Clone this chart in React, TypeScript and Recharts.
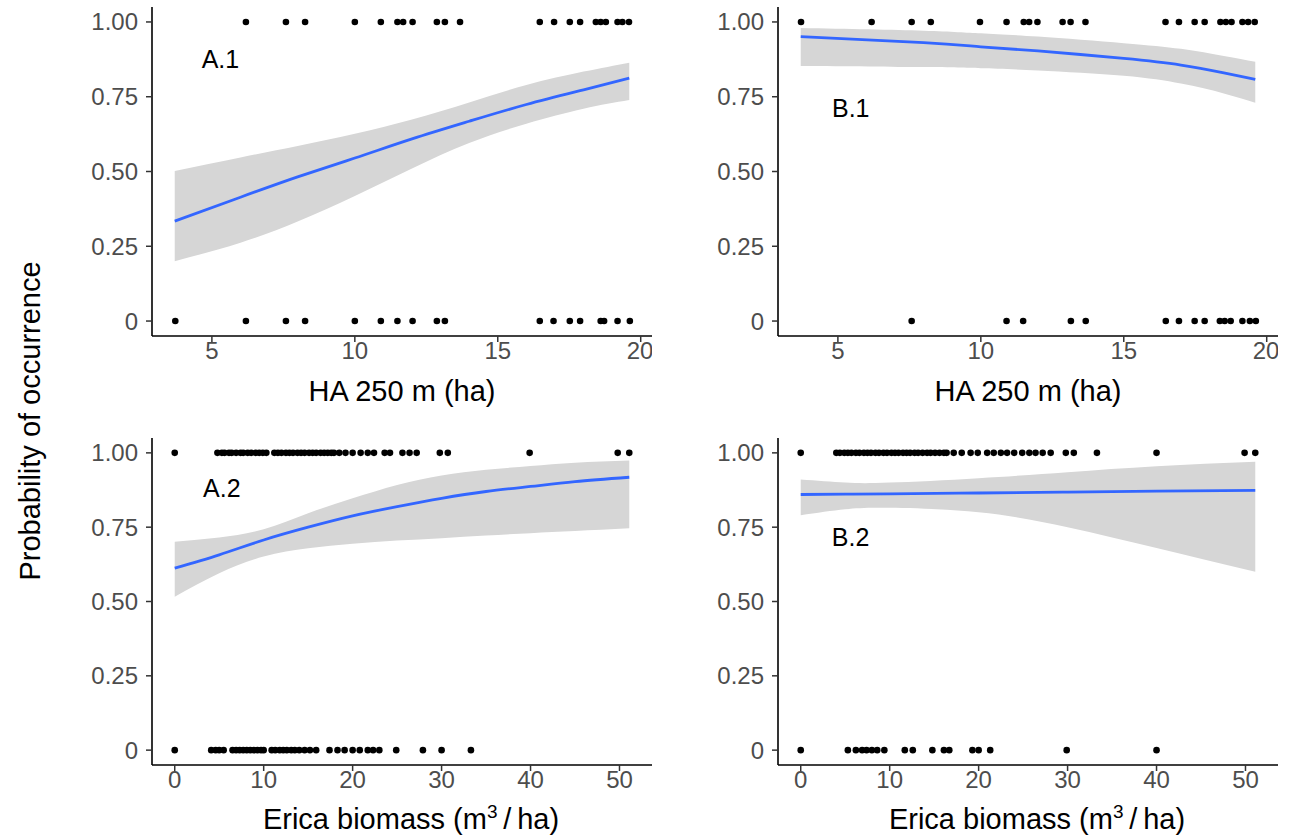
import React from "react";
import { Area, ComposedChart, Line, ReferenceDot, Scatter, XAxis, YAxis } from "recharts";

// HA 250 m (ha): sites where the species occurred (1) or not (0)
const a1Ones = [6.19, 7.59, 8.26, 10.0, 10.91, 11.49, 11.69, 12.02, 12.87, 13.15, 13.68, 16.47, 16.97, 17.52, 17.88, 18.43, 18.6, 18.78, 19.19, 19.36, 19.59];
const a1Zeros = [3.72, 6.19, 7.59, 8.26, 10.0, 10.91, 11.49, 12.02, 12.87, 13.15, 16.47, 16.95, 17.52, 17.88, 18.6, 18.72, 19.19, 19.62];
const b1Ones = [3.71, 6.18, 7.58, 8.25, 9.97, 10.9, 11.5, 11.69, 11.98, 12.86, 13.14, 13.66, 16.46, 16.93, 17.48, 17.83, 18.38, 18.57, 18.77, 19.15, 19.35, 19.58];
const b1Zeros = [7.58, 10.9, 11.48, 13.15, 13.67, 16.47, 16.93, 17.48, 17.83, 18.36, 18.53, 18.74, 19.15, 19.41, 19.62];

// Erica biomass (m3/ha)
const a2Ones = [0, 4.8, 5.3, 5.6, 6.1, 6.4, 6.9, 7.4, 7.7, 8.2, 8.6, 9.1, 9.5, 9.9, 10.3, 11.2, 11.6, 12.0, 12.5, 12.9, 13.3, 13.8, 14.2, 14.6, 15.1, 15.5, 15.9, 16.4, 16.8, 17.2, 17.6, 17.9, 18.5, 19.2, 20.0, 20.9, 21.7, 22.4, 23.6, 24.2, 25.6, 26.4, 27.2, 29.8, 30.7, 39.9, 49.8, 51.1];
const a2Zeros = [0, 4.1, 4.6, 5.0, 5.5, 6.5, 6.9, 7.3, 7.7, 8.1, 8.5, 8.9, 9.3, 9.7, 10.0, 10.9, 11.3, 11.8, 12.2, 12.6, 13.1, 13.5, 14.0, 14.6, 15.2, 15.9, 17.4, 18.3, 19.1, 20.0, 20.8, 21.7, 22.3, 23.0, 24.9, 27.9, 30.0, 33.3];
const b2Ones = [0, 4.0, 4.4, 4.9, 5.3, 5.7, 6.2, 6.6, 7.1, 7.5, 7.9, 8.4, 8.8, 9.3, 9.7, 10.2, 10.6, 11.0, 11.5, 11.9, 12.3, 12.8, 13.2, 13.7, 14.2, 14.6, 15.1, 15.6, 16.1, 16.4, 17.2, 18.1, 19.1, 19.9, 20.96, 21.7, 22.5, 23.2, 24.0, 24.9, 25.7, 26.4, 27.2, 28.1, 29.8, 30.7, 33.3, 40.0, 49.9, 51.1];
const b2Zeros = [0, 5.3, 6.2, 6.9, 7.4, 8.0, 8.6, 9.4, 11.7, 12.6, 14.8, 16.1, 16.7, 19.3, 20.0, 21.3, 29.9, 40.0];

// fitted curves with confidence band
const a1Fit = {
  x: [3.7, 6, 8, 10, 12, 14, 16, 18, 19.6],
  fit: [0.334, 0.414, 0.482, 0.545, 0.609, 0.668, 0.724, 0.773, 0.812],
  lo: [0.2, 0.262, 0.333, 0.418, 0.51, 0.595, 0.66, 0.71, 0.739],
  hi: [0.502, 0.547, 0.585, 0.626, 0.674, 0.731, 0.789, 0.834, 0.864],
};
const b1Fit = {
  x: [3.7, 8, 10, 12, 15, 17, 18.5, 19.6],
  fit: [0.951, 0.931, 0.917, 0.903, 0.878, 0.856, 0.83, 0.808],
  lo: [0.853, 0.849, 0.845, 0.838, 0.82, 0.794, 0.761, 0.73],
  hi: [0.98, 0.971, 0.962, 0.951, 0.929, 0.91, 0.886, 0.867],
};
const a2Fit = {
  x: [0, 5, 10, 15, 20, 25, 30, 35, 40, 45, 51.1],
  fit: [0.612, 0.657, 0.707, 0.75, 0.788, 0.819, 0.847, 0.87, 0.887, 0.903, 0.918],
  lo: [0.516, 0.595, 0.651, 0.679, 0.694, 0.705, 0.713, 0.722, 0.73, 0.737, 0.746],
  hi: [0.701, 0.715, 0.743, 0.797, 0.847, 0.892, 0.924, 0.943, 0.956, 0.967, 0.974],
};
const b2Fit = {
  x: [0, 5, 10, 20, 30, 40, 51.1],
  fit: [0.86, 0.861, 0.862, 0.865, 0.868, 0.871, 0.874],
  lo: [0.79, 0.81, 0.815, 0.8, 0.75, 0.68, 0.6],
  hi: [0.91, 0.9, 0.9, 0.915, 0.935, 0.955, 0.97],
};

const habTicks = [5, 10, 15, 20];
const ericaTicks = [0, 10, 20, 30, 40, 50];
const probTicks = [0, 0.25, 0.5, 0.75, 1];
const habDomain = [2.905, 20.395];
const ericaDomain = [-2.555, 53.655];

const FONT = "'Liberation Sans', Arial, sans-serif";

type Fit = { x: number[]; fit: number[]; lo: number[]; hi: number[] };
type PanelProps = {
  left: number;
  top: number;
  plotH: number;
  ones: number[];
  zeros: number[];
  curve: Fit;
  domain: number[];
  ticks: number[];
  tag: string;
  tagX: number;
  tagY: number;
};

function Panel(props: PanelProps) {
  const { left, top, plotH, ones, zeros, curve, domain, ticks, tag, tagX, tagY } = props;
  const pts = [...ones.map((x) => ({ x, y: 1 })), ...zeros.map((x) => ({ x, y: 0 }))];
  const smooth = curve.x.map((x, i) => ({ x, fit: curve.fit[i], band: [curve.lo[i], curve.hi[i]] }));
  return (
    <div style={{ position: "absolute", left, top }}>
      <ComposedChart width={600} height={plotH + 80} margin={{ top: 0, right: 0, bottom: 0, left: 0 }}>
        <XAxis
          dataKey="x"
          type="number"
          domain={domain}
          ticks={ticks}
          allowDataOverflow
          height={80}
          tickSize={6}
          tickMargin={0}
          axisLine={{ stroke: "#000", strokeWidth: 1.6 }}
          tickLine={{ stroke: "#333", strokeWidth: 1.5 }}
          tick={{ fill: "#4d4d4d", fontSize: 24 }}
        />
        <YAxis
          type="number"
          domain={[-0.05, 1.05]}
          ticks={probTicks}
          allowDataOverflow
          width={100}
          tickSize={6}
          tickMargin={8}
          tickFormatter={(v: number) => (v === 0 ? "0" : v.toFixed(2))}
          axisLine={{ stroke: "#000", strokeWidth: 1.6 }}
          tickLine={{ stroke: "#333", strokeWidth: 1.5 }}
          tick={{ fill: "#4d4d4d", fontSize: 24 }}
        />
        <Scatter
          data={pts}
          dataKey="y"
          isAnimationActive={false}
          shape={(p: any) => <circle cx={p.cx} cy={p.cy} r={3.3} fill="#000" />}
        />
        <Area data={smooth} dataKey="band" type="natural" fill="#d6d6d6" fillOpacity={1} stroke="none" isAnimationActive={false} />
        <Line data={smooth} dataKey="fit" type="natural" stroke="#3366FF" strokeWidth={2.8} dot={false} isAnimationActive={false} />
        <ReferenceDot
          x={tagX}
          y={tagY}
          r={0}
          fill="none"
          stroke="none"
          label={{ value: tag, position: "center", fill: "#000", fontSize: 25 }}
        />
      </ComposedChart>
    </div>
  );
}

const titleStyle: React.CSSProperties = {
  position: "absolute",
  width: 500,
  height: 36,
  lineHeight: "36px",
  fontSize: 29,
  textAlign: "center",
  color: "#000",
  whiteSpace: "nowrap",
};

function EricaTitle() {
  return (
    <span>
      Erica biomass (m<sup style={{ fontSize: 19, verticalAlign: "top", lineHeight: "22px" }}>3</sup>
      {"\u2009/\u2009"}ha)
    </span>
  );
}

export default function App() {
  return (
    <div style={{ position: "absolute", left: 0, top: 0, width: 1295, height: 837, background: "#fff", fontFamily: FONT }}>
      <Panel left={52} top={7} plotH={329} ones={a1Ones} zeros={a1Zeros} curve={a1Fit} domain={habDomain} ticks={habTicks} tag="A.1" tagX={5.3} tagY={0.876} />
      <Panel left={678} top={7} plotH={329} ones={b1Ones} zeros={b1Zeros} curve={b1Fit} domain={habDomain} ticks={habTicks} tag="B.1" tagX={5.45} tagY={0.712} />
      <Panel left={52} top={438} plotH={327} ones={a2Ones} zeros={a2Zeros} curve={a2Fit} domain={ericaDomain} ticks={ericaTicks} tag="A.2" tagX={5.3} tagY={0.882} />
      <Panel left={678} top={438} plotH={327} ones={b2Ones} zeros={b2Zeros} curve={b2Fit} domain={ericaDomain} ticks={ericaTicks} tag="B.2" tagX={5.6} tagY={0.717} />

      <div style={{ ...titleStyle, left: 152, top: 373 }}>HA 250 m (ha)</div>
      <div style={{ ...titleStyle, left: 778, top: 373 }}>HA 250 m (ha)</div>
      <div style={{ ...titleStyle, left: 161, top: 801 }}><EricaTitle /></div>
      <div style={{ ...titleStyle, left: 787, top: 801 }}><EricaTitle /></div>

      <div
        style={{
          position: "absolute",
          left: 30 - 200,
          top: 421 - 18,
          width: 400,
          height: 36,
          lineHeight: "36px",
          fontSize: 29,
          textAlign: "center",
          transform: "rotate(-90deg)",
          whiteSpace: "nowrap",
        }}
      >
        Probability of occurrence
      </div>
    </div>
  );
}
